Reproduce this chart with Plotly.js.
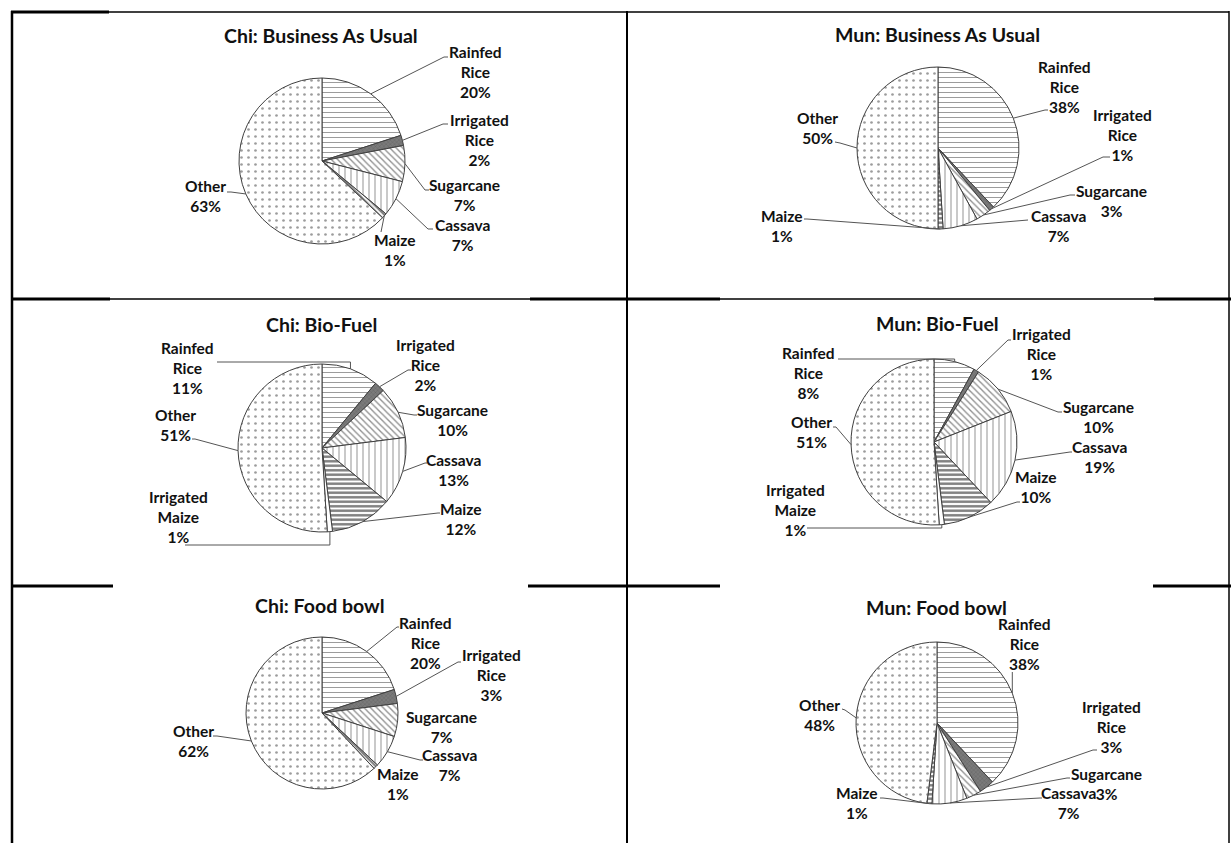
<!DOCTYPE html>
<html>
<head>
<meta charset="utf-8">
<script src="https://cdn.plot.ly/plotly-3.0.1.min.js"></script>
<style>html,body{margin:0;padding:0;background:#fff;}#chart{width:1231px;height:843px;}</style>
</head>
<body>
<div id="chart"></div>
<script>
// ---------------- DATA ----------------
const cropsA = ["Rainfed Rice", "Irrigated Rice", "Sugarcane", "Cassava", "Maize", "Other"];
const cropsB = ["Rainfed Rice", "Irrigated Rice", "Sugarcane", "Cassava", "Maize", "Irrigated Maize", "Other"];

const chiBAU  = [20, 2, 7, 7, 1, 63];
const munBAU  = [38, 1, 3, 7, 1, 50];
const chiBio  = [11, 2, 10, 13, 12, 1, 51];
const munBio  = [8, 1, 10, 19, 10, 1, 51];
const chiFood = [20, 3, 7, 7, 1, 62];
const munFood = [38, 3, 3, 7, 1, 48];

const chartTitles = ["Chi: Business As Usual", "Mun: Business As Usual",
                     "Chi: Bio-Fuel", "Mun: Bio-Fuel",
                     "Chi: Food bowl", "Mun: Food bowl"];

// ---------------- LAYOUT / STYLE ----------------
const W = 1231, H = 843;
const FONT = "Lato, 'Open Sans', sans-serif";
const X = v => v / W;
const Y = v => 1 - v / H;

function sliceStyle(crop, maizeShape) {
  switch (crop) {
    case "Rainfed Rice":   return {bg: "#ffffff", shape: "-", fg: "#3a3a3a", size: 5, sol: 0.2};
    case "Irrigated Rice": return {bg: "#7a7a7a", shape: "x", fg: "#3a3a3a", size: 3, sol: 0.2};
    case "Sugarcane":      return {bg: "#ffffff", shape: "\\", fg: "#222222", size: 4.5, sol: 0.3};
    case "Cassava":        return {bg: "#ffffff", shape: "|", fg: "#4a4a4a", size: 6, sol: 0.2};
    case "Maize":          return {bg: "#ffffff", shape: maizeShape, fg: "#000000", size: maizeShape === "-" ? 4.5 : 4, sol: 0.55};
    case "Irrigated Maize":return {bg: "#ffffff", shape: "", fg: "#000000", size: 4, sol: 0.3};
    default:               return {bg: "#ffffff", shape: ".", fg: "#3a3a3a", size: 7, sol: 0.12};
  }
}

const charts = [
  {crops: cropsA, vals: chiBAU, cx: 322, cy: 161, r: 83, tx: 321, ty: 36, maize: "\\",
   labels: [
     [475, 72,  [[444, 57], [448, 57]]],
     [479, 140, [[443, 124], [448, 124]]],
     [464, 195, [[425, 190], [429, 190]]],
     [462, 235, [[428, 229], [433, 229]]],
     [395, 250, [[381, 232]]],
     [205, 196.5, [[231, 192], [227, 192]]]
   ]},
  {crops: cropsA, vals: munBAU, cx: 938, cy: 148, r: 81, tx: 937, ty: 35, maize: "-",
   labels: [
     [1064, 87.5, [[1045, 110], [1048, 110]]],
     [1122, 135,  [[1103, 157], [1110, 157]]],
     [1111, 201.5,[[1070, 195], [1075, 195]]],
     [1058, 225.5,[[1028, 220]]],
     [782, 225.5, [[807, 219], [804, 219]]],
     [817, 127.5, [[840, 143], [835, 142]]]
   ]},
  {crops: cropsB, vals: chiBio, cx: 322, cy: 448, r: 84, tx: 321, ty: 324, maize: "-",
   labels: [
     [188, 368, [["e", 362], [217, 362]]],
     [425, 364.5, [[408, 370], [411, 370]]],
     [452, 420, [[414, 415], [417, 415]]],
     [453, 469.5, [[425, 463], [427, 463]]],
     [461, 518.5, [[438, 513], [440, 513]]],
     [178, 517, [["e", 545], [185, 545]]],
     [175, 424.5, [[195, 439], [192, 439]]]
   ]},
  {crops: cropsB, vals: munBio, cx: 934, cy: 442, r: 83, tx: 937, ty: 323, maize: "-",
   labels: [
     [808, 372.5, [["e", 359], [838, 359]]],
     [1041, 354.5, [[1008, 340], [1011, 340]]],
     [1098, 417, [[1058, 412], [1062, 412]]],
     [1099, 457, [[1070, 452], [1072, 452]]],
     [1036, 487, [[1017, 502], [1020, 502]]],
     [795, 510, [["e", 528], [807, 528]]],
     [811, 432.5, [[836, 427], [833, 427]]]
   ]},
  {crops: cropsA, vals: chiFood, cx: 322, cy: 713, r: 76, tx: 320, ty: 605, maize: "\\",
   labels: [
     [425, 642.5, [[397, 627], [399, 627]]],
     [491, 675, [[458, 662], [461, 662]]],
     [441, 727, []],
     [449, 764.5, [[420, 760], [423, 760]]],
     [398, 783.5, []],
     [193, 740.5, [[217, 736], [213, 736]]]
   ]},
  {crops: cropsA, vals: munFood, cx: 937, cy: 723, r: 81, tx: 936, ty: 607, maize: "-",
   labels: [
     [1024, 643.5, [["e", 672]]],
     [1111, 727, [[1093, 750], [1097, 750]]],
     [1106, 783.5, [[1067, 778], [1070, 778]]],
     [1068, 802.5, [[1040, 798], [1042, 798]]],
     [857, 803, [[883, 798], [880, 798]]],
     [819, 714.5, [[845, 710], [842, 709]]]
   ]}
];

const traces = [];
const annotations = [];
const shapes = [];

function line(x0, y0, x1, y1, w, c) {
  shapes.push({type: "line", xref: "paper", yref: "paper",
    x0: X(x0), y0: Y(y0), x1: X(x1), y1: Y(y1),
    line: {color: c || "#000", width: w}});
}

charts.forEach((c, ci) => {
  const st = c.crops.map(k => sliceStyle(k, c.maize));
  traces.push({
    type: "pie", labels: c.crops, values: c.vals, sort: false, direction: "clockwise", rotation: 0,
    textinfo: "none", hoverinfo: "none", showlegend: false,
    domain: {x: [X(c.cx - c.r), X(c.cx + c.r)], y: [Y(c.cy + c.r), Y(c.cy - c.r)]},
    marker: {
      colors: st.map(s => s.bg),
      line: {color: "#404040", width: 1},
      pattern: {shape: st.map(s => s.shape), fgcolor: st.map(s => s.fg),
                size: st.map(s => s.size), solidity: st.map(s => s.sol), fillmode: "overlay"}
    }
  });
  annotations.push({xref: "paper", yref: "paper", x: X(c.tx), y: Y(c.ty), xanchor: "center", yanchor: "middle",
    text: chartTitles[ci], showarrow: false, font: {family: FONT, size: 19.5, weight: 700, color: "#111"}});

  const total = c.vals.reduce((a, b) => a + b, 0);
  let cum = 0;
  c.vals.forEach((v, i) => {
    const mid = (cum + v / 2) / total * 2 * Math.PI;
    cum += v;
    const ex = c.cx + c.r * Math.sin(mid);
    const ey = c.cy - c.r * Math.cos(mid);
    const lab = c.labels[i];
    const txt = c.crops[i].split(" ").join("<br>") + "<br>" + v + "%";
    annotations.push({xref: "paper", yref: "paper", x: X(lab[0]), y: Y(lab[1]), xanchor: "center", yanchor: "middle",
      text: txt, showarrow: false, font: {family: FONT, size: 15.5, weight: 700, color: "#111"}});
    let px0 = ex, py0 = ey;
    lab[2].forEach(p => {
      const nx = p[0] === "e" ? ex : p[0];
      const ny = p[1];
      line(px0, py0, nx, ny, 1, "#555");
      px0 = nx; py0 = ny;
    });
  });
});

// frame lines
line(11, 12, 109, 12, 3);
line(109, 12, 1229, 12, 1.5);
line(12, 11, 12, 843, 2.5);
line(627, 11, 627, 843, 2);
line(1229, 11, 1229, 843, 1.5);
line(11, 299, 110, 299, 3);
line(110, 299, 530, 299, 1.5);
line(530, 299, 720, 299, 3);
line(720, 299, 1154, 299, 1.5);
line(1154, 299, 1231, 299, 3);
line(11, 586, 113, 586, 3);
line(528, 586, 720, 586, 3);
line(1153, 586, 1231, 586, 3);

const layout = {
  width: W, height: H, margin: {l: 0, r: 0, t: 0, b: 0},
  paper_bgcolor: "#fff", plot_bgcolor: "#fff",
  annotations: annotations, shapes: shapes,
  font: {family: FONT}
};
Plotly.newPlot("chart", traces, layout, {staticPlot: true, displayModeBar: false});
</script>
</body>
</html>
